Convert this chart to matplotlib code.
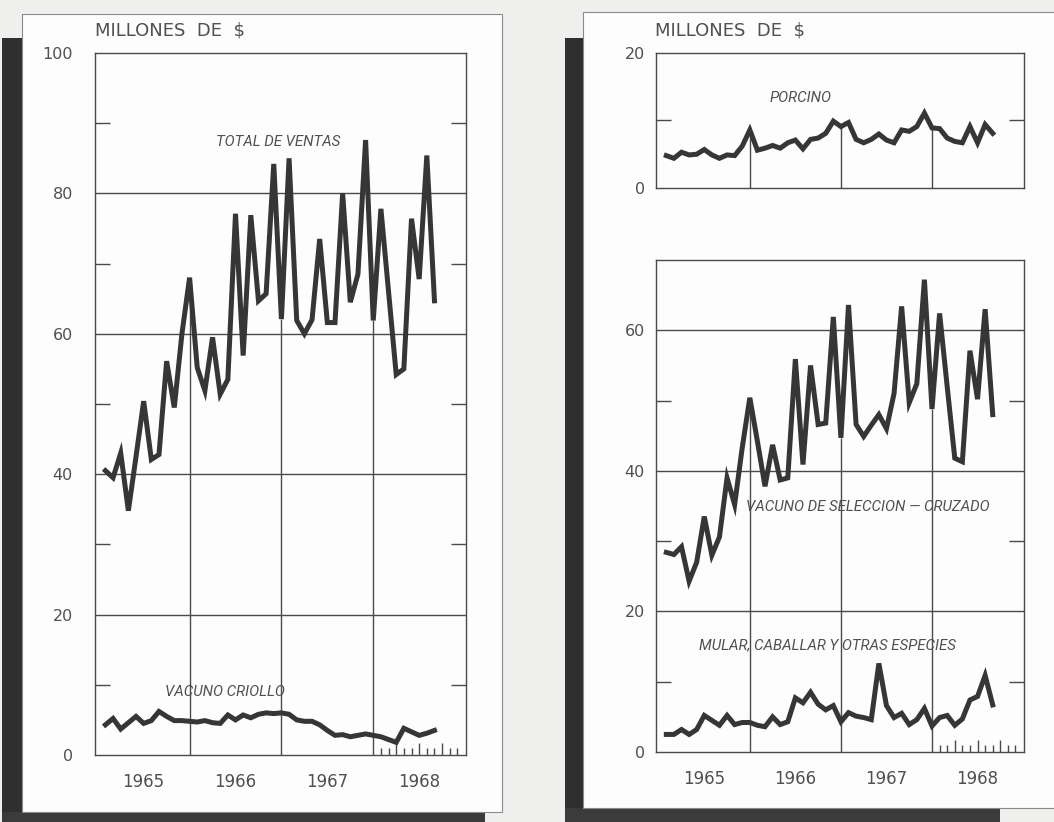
import numpy as np
import matplotlib.pyplot as plt
from matplotlib.patches import Rectangle

# ventas mensuales, millones de $ (ene-1965 .. ago-1968)
total_ventas = [40.5, 39.5, 43.0, 34.8, 42.5, 50.4, 42.1, 42.8, 56.1, 49.5, 60.0, 68.0,
                55.2, 51.9, 59.5, 51.4, 53.5, 77.1, 56.9, 76.9, 64.7, 65.7, 84.2, 62.1,
                85.0, 61.9, 60.0, 62.0, 73.5, 61.6, 61.6, 80.0, 64.5, 68.5, 87.6, 61.9,
                77.8, 66.0, 54.2, 55.0, 76.4, 67.8, 85.4, 64.7]
vacuno_criollo = [4.3, 5.2, 3.7, 4.6, 5.5, 4.5, 4.9, 6.2, 5.5, 4.9, 4.9, 4.8,
                  4.7, 4.9, 4.6, 4.5, 5.7, 5.0, 5.7, 5.3, 5.8, 6.0, 5.9, 6.0,
                  5.8, 5.0, 4.8, 4.8, 4.3, 3.5, 2.8, 2.9, 2.6, 2.8, 3.0, 2.8,
                  2.6, 2.2, 1.8, 3.8, 3.3, 2.8, 3.1, 3.5]
porcino = [4.8, 4.4, 5.3, 4.9, 5.0, 5.7, 4.9, 4.4, 4.9, 4.8, 6.2, 8.6,
           5.6, 5.9, 6.3, 5.9, 6.7, 7.1, 5.8, 7.2, 7.4, 8.1, 9.9, 9.1,
           9.7, 7.2, 6.7, 7.2, 8.0, 7.1, 6.7, 8.6, 8.4, 9.1, 11.1, 8.9,
           8.8, 7.4, 6.9, 6.7, 9.1, 6.7, 9.4, 8.1]
seleccion = [28.4, 28.1, 29.2, 24.3, 27.0, 33.5, 28.0, 30.6, 39.0, 35.2, 43.3, 50.4,
             44.2, 37.8, 43.7, 38.7, 39.0, 55.9, 40.9, 55.0, 46.6, 46.8, 61.9, 44.7,
             63.6, 46.6, 44.9, 46.5, 48.0, 46.0, 51.0, 63.4, 49.7, 52.4, 67.2, 48.8,
             62.4, 52.0, 41.8, 41.3, 57.1, 50.2, 63.0, 48.0]
mular = [2.5, 2.5, 3.2, 2.5, 3.2, 5.2, 4.5, 3.8, 5.2, 3.9, 4.2, 4.2,
         3.8, 3.6, 5.0, 3.9, 4.3, 7.7, 7.0, 8.5, 6.8, 6.0, 6.6, 4.3,
         5.6, 5.1, 4.9, 4.6, 12.6, 6.6, 4.9, 5.5, 3.9, 4.6, 6.2, 3.7,
         4.9, 5.2, 3.8, 4.7, 7.4, 7.9, 10.9, 6.7]

anos = ['1965', '1966', '1967', '1968']
x = 1965 + np.arange(1, len(total_ventas) + 1) / 12.0

W, H = 1054, 822
LINEA = '#4a4a4a'
TXT = '#505050'
SERIE = '#363636'
ROTULO = ['Roboto', 'DejaVu Sans']

fig = plt.figure(figsize=(W / 100, H / 100), dpi=100)
fig.patch.set_facecolor('#efefed')


def fx(px):
	return px / W


def fy(py):
	return 1 - py / H


def rect(x0, y0, x1, y1, color, ec='none'):
	fig.add_artist(Rectangle((fx(x0), fy(y1)), fx(x1) - fx(x0), fy(y0) - fy(y1),
	                         transform=fig.transFigure, facecolor=color,
	                         edgecolor=ec, lw=0.8, zorder=-2))


# hojas y sombras del recorte escaneado
rect(2, 38, 22, 822, '#2f2f2f')
rect(2, 812, 485, 822, '#3b3b3b')
rect(22, 14, 502, 812, '#fdfdfd', ec='#8a8a8a')
rect(565, 38, 583, 822, '#2f2f2f')
rect(565, 808, 1000, 822, '#3b3b3b')
rect(583, 12, 1060, 808, '#fdfdfd', ec='#8a8a8a')


def add_ax(x0, y0, x1, y1):
	return fig.add_axes([fx(x0), fy(y1), fx(x1) - fx(x0), fy(y0) - fy(y1)])


def estilo(ax, ymax, mayores, menores, grid, pad, years=True):
	ax.set_facecolor('none')
	ax.set_xlim(1964.97, 1969.01)
	ax.set_ylim(0, ymax)
	for s in ax.spines.values():
		s.set_color(LINEA)
		s.set_linewidth(1.0)
	ax.set_xticks([1966, 1967, 1968])
	ax.set_xticklabels([])
	ax.set_xticks([1965.5, 1966.5, 1967.5, 1968.5], minor=True)
	ax.set_xticklabels(anos if years else [], minor=True)
	ax.tick_params(axis='x', which='both', length=0)
	ax.tick_params(axis='x', which='minor', pad=13, labelsize=12, labelcolor=TXT)
	ax.set_yticks(mayores)
	ax.set_yticklabels([str(v) for v in mayores])
	ax.set_yticks(menores, minor=True)
	ax.tick_params(axis='y', which='major', length=0, pad=pad, labelsize=11.5, labelcolor=TXT)
	ax.tick_params(axis='y', which='minor', direction='in', length=11, width=1.0,
	               left=True, right=True, color=LINEA)
	for v in grid:
		ax.axhline(v, color=LINEA, lw=1.0, zorder=1)


def linea(ax, y):
	ax.plot(x, y, color=SERIE, lw=3.6, solid_joinstyle='miter', zorder=3)


def verticales(ax, tope):
	xs = np.array([1966, 1967, 1968])
	ax.vlines(xs, 0, np.interp(xs, x, tope), color=LINEA, lw=1.0, zorder=1)


def meses_1968(ax, alto_px):
	pos = 1968 + np.arange(1, 12) / 12.0
	largo = np.where(np.arange(1, 12) % 3 == 0, 12, 7) / alto_px
	ax.vlines(pos, 0, largo, transform=ax.get_xaxis_transform(), color=LINEA, lw=1.0)


def rotulo(ax, xv, yv, s):
	ax.text(xv, yv, s, ha='center', va='center', fontsize=10.8, style='italic',
	        family=ROTULO, color=TXT)


# panel izquierdo
axL = add_ax(95, 53, 466, 755)
estilo(axL, 100, [0, 20, 40, 60, 80, 100], [10, 30, 50, 70, 90], [20, 40, 60, 80], 16)
verticales(axL, total_ventas)
linea(axL, total_ventas)
linea(axL, vacuno_criollo)
meses_1968(axL, 702)
rotulo(axL, 1966.96, 87.3, 'TOTAL DE VENTAS')
rotulo(axL, 1966.38, 9.0, 'VACUNO CRIOLLO')

# panel derecho superior
axRT = add_ax(656, 53, 1024, 188)
estilo(axRT, 20, [0, 20], [10], [], 8, years=False)
verticales(axRT, porcino)
linea(axRT, porcino)
rotulo(axRT, 1966.56, 13.3, 'PORCINO')

# panel derecho inferior
axRB = add_ax(656, 260, 1024, 752)
estilo(axRB, 70, [0, 20, 40, 60], [10, 30, 50], [20, 40, 60], 8)
verticales(axRB, seleccion)
linea(axRB, seleccion)
linea(axRB, mular)
meses_1968(axRB, 492)
rotulo(axRB, 1967.29, 34.9, 'VACUNO DE SELECCION — CRUZADO')
rotulo(axRB, 1966.85, 15.2, 'MULAR, CABALLAR Y OTRAS ESPECIES')

fig.text(fx(95), fy(30), 'MILLONES  DE  $', ha='left', va='center', fontsize=13, color=TXT)
fig.text(fx(655), fy(30), 'MILLONES  DE  $', ha='left', va='center', fontsize=13, color=TXT)

fig.savefig('out.png', dpi=100, facecolor=fig.get_facecolor())
